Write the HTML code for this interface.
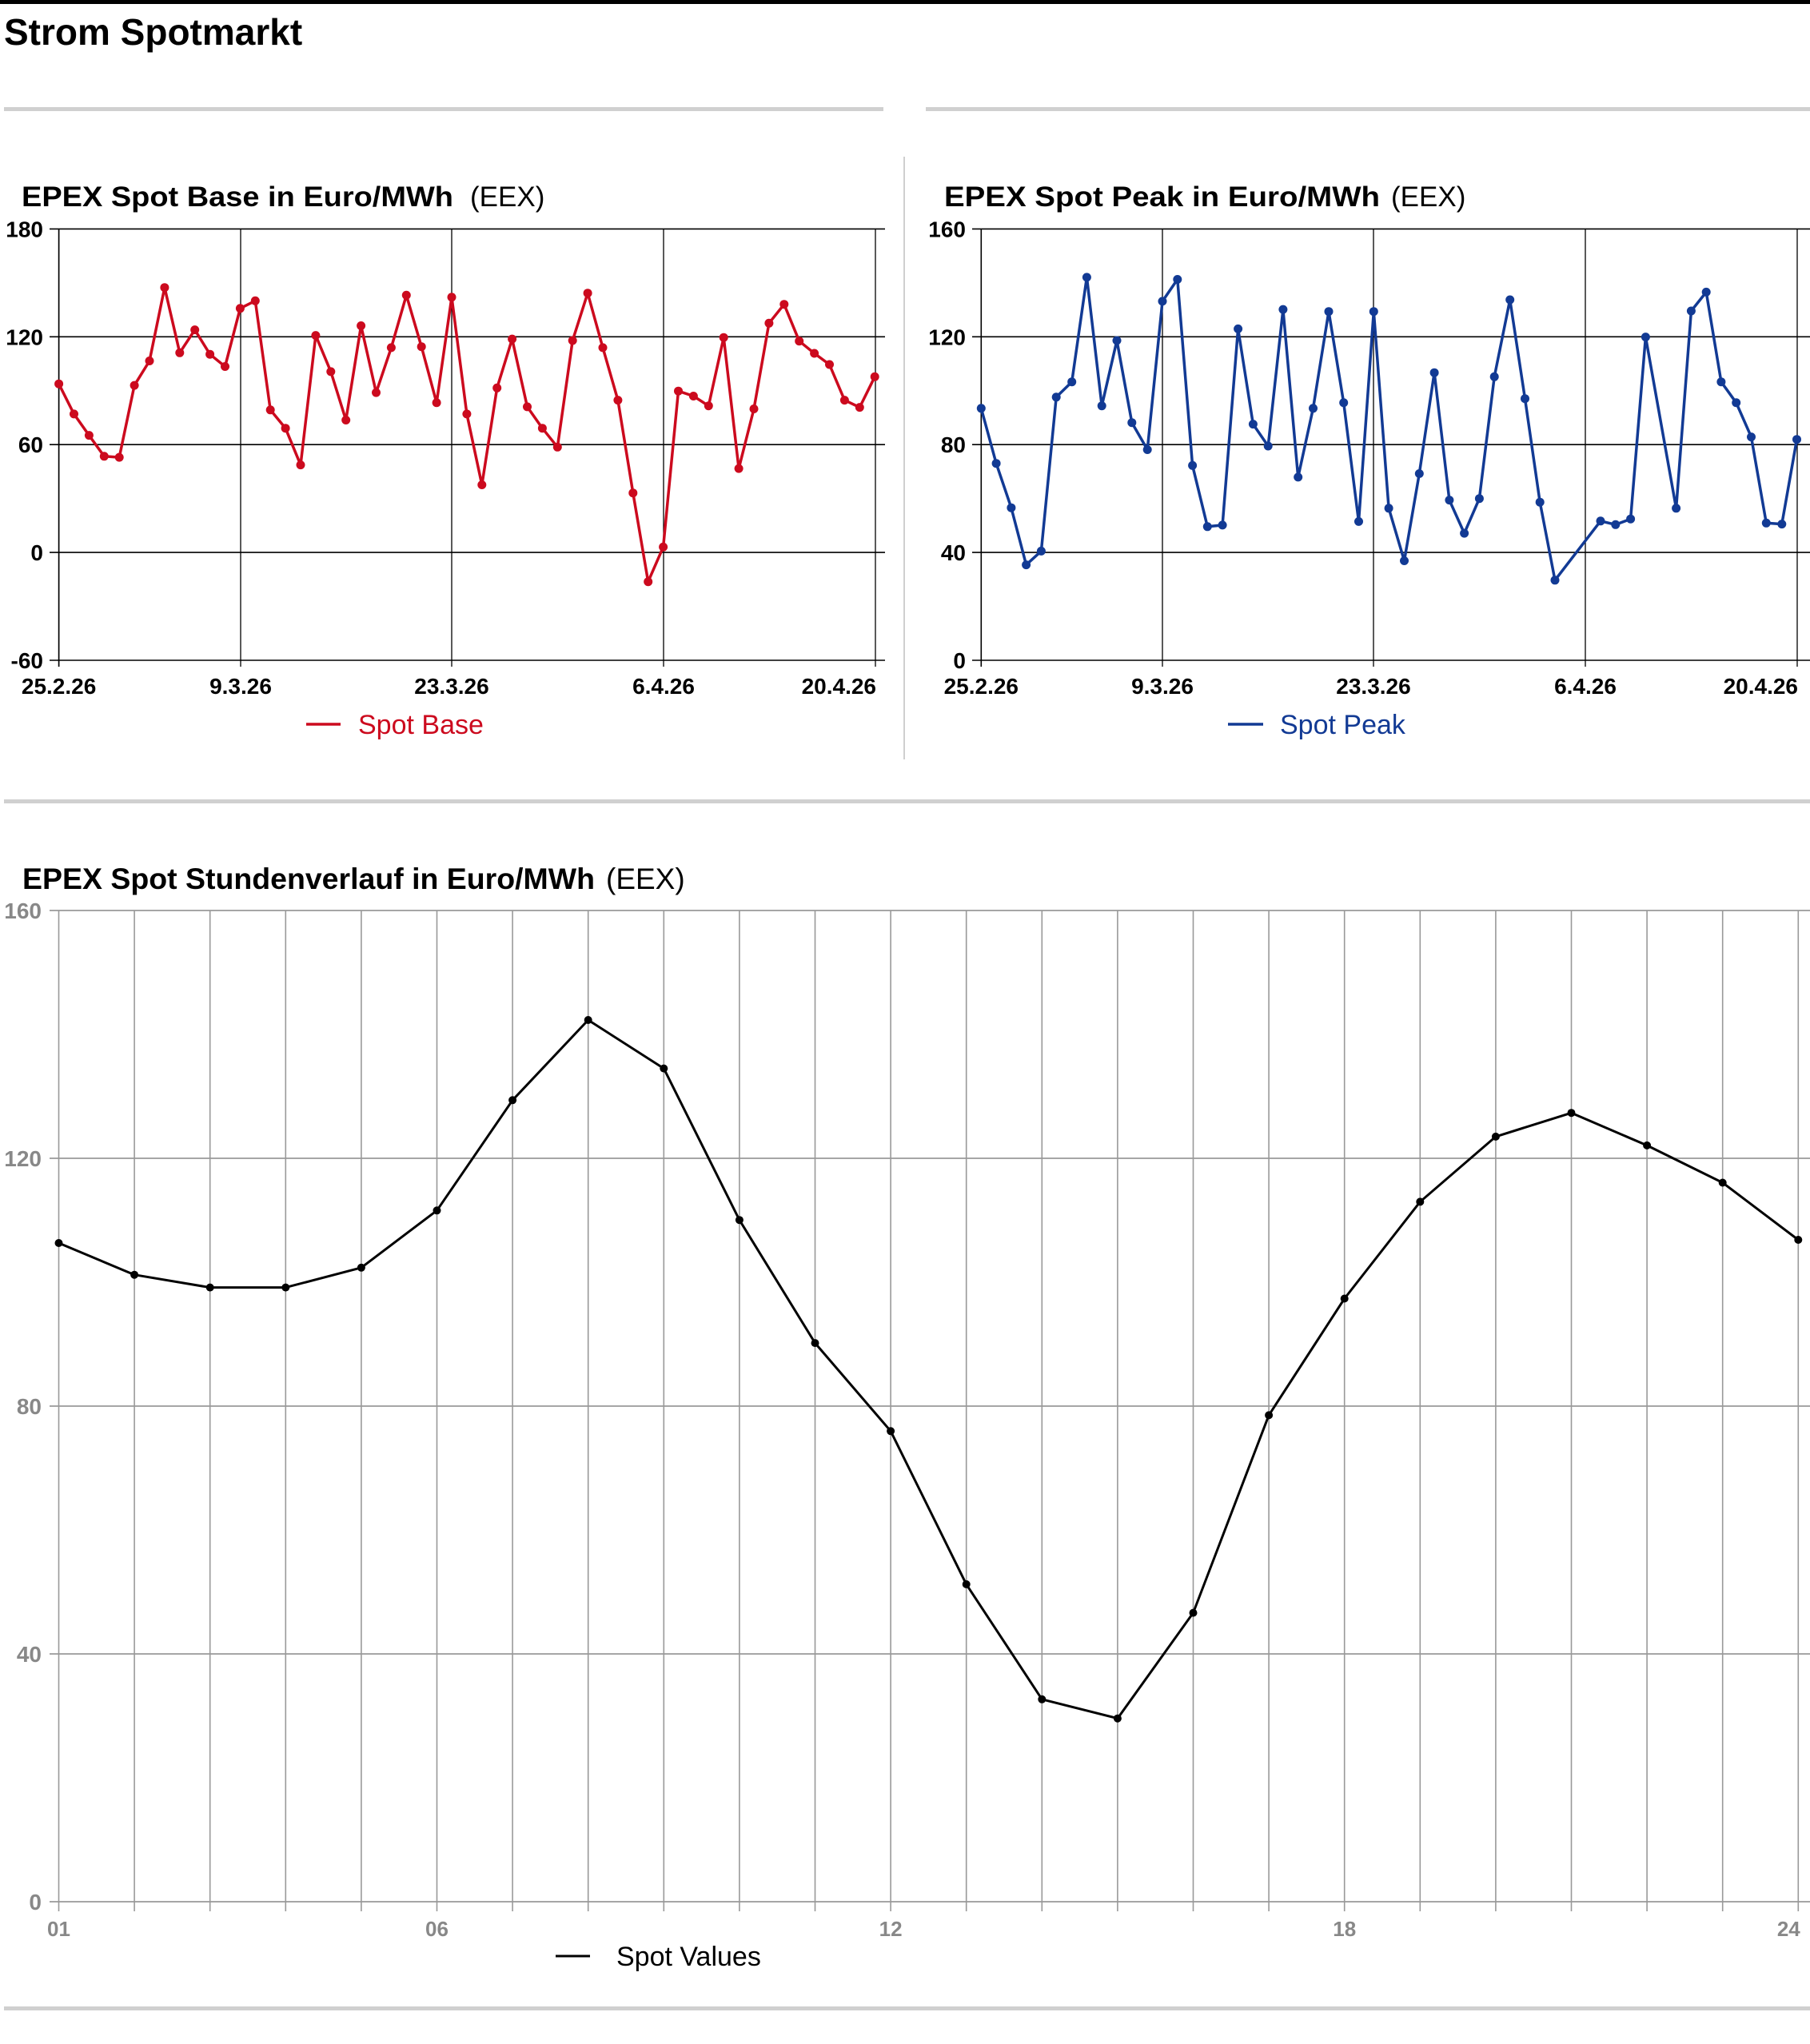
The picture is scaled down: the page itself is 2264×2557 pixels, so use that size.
<!DOCTYPE html>
<html><head><meta charset="utf-8">
<style>
html,body{margin:0;padding:0;background:#fff;}
body{width:2264px;height:2557px;overflow:hidden;position:relative;font-family:"Liberation Sans",sans-serif;}
svg{position:absolute;left:0;top:0;}
</style></head>
<body>
<svg id="s" width="2264" height="2557" xmlns="http://www.w3.org/2000/svg" font-family="Liberation Sans, sans-serif"></svg>
<script>
(function(){
var o=[];
function L(x1,y1,x2,y2,c,w){o.push('<line x1="'+x1+'" y1="'+y1+'" x2="'+x2+'" y2="'+y2+'" stroke="'+c+'" stroke-width="'+w+'"/>');}
function T(x,y,t,sz,wt,c,anc,tl){o.push('<text x="'+x+'" y="'+y+'" font-size="'+sz+'" font-weight="'+wt+'" fill="'+c+'" text-anchor="'+(anc||'start')+'"'+(tl?' textLength="'+tl+'" lengthAdjust="spacingAndGlyphs"':'')+'>'+t+'</text>');}
function poly(pts,c,w,r){var d=pts.map(function(p){return p[0].toFixed(1)+','+p[1].toFixed(1)}).join(' ');
o.push('<polyline points="'+d+'" fill="none" stroke="'+c+'" stroke-width="'+w+'" stroke-linejoin="round"/>');
pts.forEach(function(p){o.push('<circle cx="'+p[0].toFixed(1)+'" cy="'+p[1].toFixed(1)+'" r="'+r+'" fill="'+c+'"/>');});}
o.push('<rect x="0" y="0" width="2264" height="5" fill="#000"/>');
T(5,56,'Strom Spotmarkt',46,'bold','#000');
o.push('<rect x="5" y="134" width="1100" height="5" fill="#d0d0d0"/>');
o.push('<rect x="1158" y="134" width="1106" height="5" fill="#d0d0d0"/>');
o.push('<rect x="1130" y="196" width="2" height="754" fill="#cfcfcf"/>');
o.push('<rect x="5" y="1000" width="2259" height="5" fill="#d0d0d0"/>');
o.push('<rect x="5" y="2510" width="2259" height="5" fill="#d0d0d0"/>');
var ky=1.568,kx=1.385;
var pt=286.4,pb=826,l1=73.6;
T(27,258,'EPEX Spot Base in Euro/MWh',35,'bold','#000','start',540);T(588,258,'(EEX)',35,'normal','#000');
var yl=['180','120','60','0','-60'];
for(var i=0;i<5;i++){var y=pt+i*(pb-pt)/4;L(62,y,1107,y,'#000',1.6);T(54,y+10,yl[i],28,'bold','#000','end');}
L(l1,pt,l1,pb+8,'#000',1.6);
var xt=[[73.6,'25.2.26'],[301,'9.3.26'],[565,'23.3.26'],[830,'6.4.26'],[1095,'20.4.26']];
xt.forEach(function(a,i){L(a[0],pt,a[0],pb+8,'#000',1.3);T(i==4?a[0]+1:a[0],868,a[1],28,'bold','#000',i==4?'end':'middle');});
var by=[753,812,854,895,897,756,708,564,692,647,695,719,605,590,804,840,912,658,729,824,639,770,682,579,680,790,583,812,951,761,665,798,840,877,668,575,682,785,967,1141,1073,767,777,796,662,919,802,634,597,669,693,715,785,799,739];
poly(by.map(function(v,i){return [73.6+i*18.9,v/ky];}),'#cc0a1e',3.5,5.5);
L(383,906,426,906,'#cc0a1e',3.5);T(448,918,'Spot Base',34,'normal','#cc0a1e');
var l2=1227.3;
T(1181,258,'EPEX Spot Peak in Euro/MWh',35,'bold','#000','start',545);T(1740,258,'(EEX)',35,'normal','#000');
var yl2=['160','120','80','40','0'];
for(var i=0;i<5;i++){var y=pt+i*(pb-pt)/4;L(1216,y,2264,y,'#000',1.6);T(1208,y+10,yl2[i],28,'bold','#000','end');}
L(l2,pt,l2,pb+8,'#000',1.6);
var xt2=[[1227.3,'25.2.26'],[1454,'9.3.26'],[1718,'23.3.26'],[1983,'6.4.26'],[2248,'20.4.26']];
xt2.forEach(function(a,i){L(a[0],pt,a[0],pb+8,'#000',1.3);T(i==4?a[0]+1:a[0],868,a[1],28,'bold','#000',i==4?'end':'middle');});
var pk=[[132,801],[158,909],[184,996],[210,1108],[236,1081],[262,779],[289,749],[315,544],[341,796],[367,668],[393,829],[420,882],[446,591],[472,548],[498,913],[524,1033],[550,1030],[577,645],[603,832],[629,875],[655,607],[681,936],[707,801],[734,611],[760,790],[786,1023],[812,611],[838,997],[865,1100],[891,929],[917,731],[943,981],[969,1046],[995,978],[1021,739],[1048,588],[1074,782],[1100,985],[1126,1138],[1205,1022],[1231,1029],[1257,1018],[1283,661],[1336,997],[1362,610],[1388,573],[1414,749],[1440,790],[1466,857],[1492,1026],[1519,1028],[1545,862]];
poly(pk.map(function(p){return [1132+p[0]/kx,p[1]/ky];}),'#123a94',3.5,5.5);
L(1536,906,1580,906,'#123a94',3.5);T(1601,918,'Spot Peak',34,'normal','#123a94');
T(28,1112,'EPEX Spot Stundenverlauf in Euro/MWh',37,'bold','#000','start',716);T(758,1112,'(EEX)',37,'normal','#000');
var bt=1139,bb=2379,bl=73.5,bs=94.6;
var yl3=['160','120','80','40','0'];
for(var i=0;i<5;i++){var y=bt+i*(bb-bt)/4;L(62,y,2264,y,'#999',1.8);T(52,y+10,yl3[i],28,'bold','#888','end');}
for(var i=0;i<24;i++){var x=bl+i*bs;L(x,bt,x,bb+12,'#999',1.6);}
[[0,'01'],[5,'06'],[11,'12'],[17,'18'],[23,'24']].forEach(function(a){var x=bl+a[0]*bs;T(a[0]==23?x-12:x,2422,a[1],26,'bold','#888','middle');});
var hy=[559,599,615,615,590,518,379,278,339,530,685,796,989,1134,1158,1025,776,629,507,425,395,436,483,555];
poly(hy.map(function(v,i){return [bl+i*bs,bt+(v-140)*1240/1249];}),'#000',3,5);
L(695,2447,738,2447,'#000',3);T(771,2459,'Spot Values',34,'normal','#000');
document.getElementById('s').innerHTML=o.join('');
})();
</script>
</body></html>
